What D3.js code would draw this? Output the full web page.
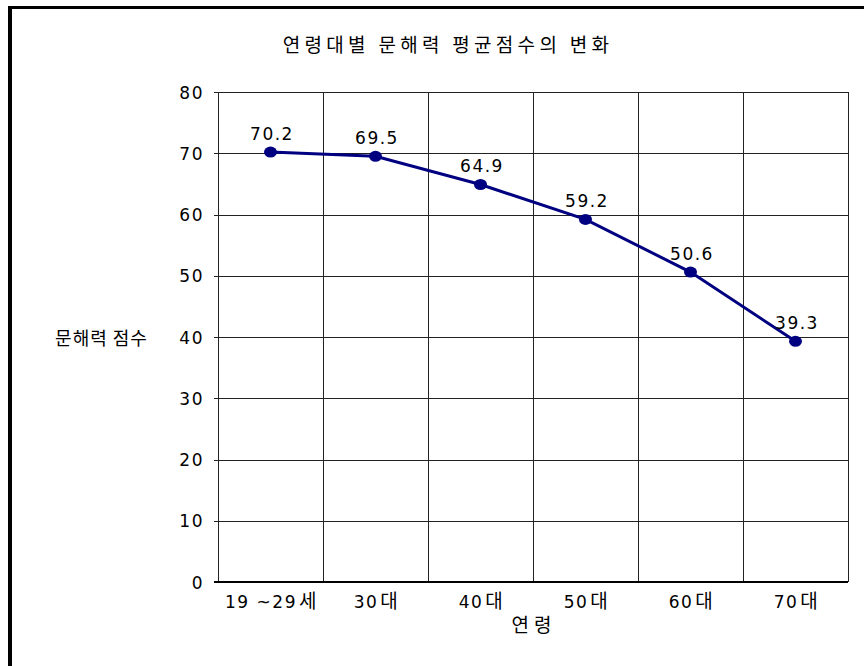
<!DOCTYPE html>
<html>
<head>
<meta charset="utf-8">
<script src="https://cdn.jsdelivr.net/npm/d3@7"></script>
<style>
  html, body { margin: 0; padding: 0; background: #fff; }
  svg text { font-family: "DejaVu Sans", "Noto Sans CJK KR", sans-serif; fill: #000; }
  svg text.kr, svg tspan.kr { font-family: "Noto Sans CJK KR", "DejaVu Sans", sans-serif; }
</style>
</head>
<body>
<svg id="chart" width="864" height="666"></svg>
<script>
// Mean literacy score by age group
const categories = ["19 ~29세", "30대", "40대", "50대", "60대", "70대"];
const scores = [70.2, 69.5, 64.9, 59.2, 50.6, 39.3];
const yTicks = [0, 10, 20, 30, 40, 50, 60, 70, 80];

const svg = d3.select("#chart");
const margin = { left: 218, right: 16, top: 92, bottom: 84 };
const W = 864, H = 666;
const plotW = W - margin.left - margin.right;
const plotH = H - margin.top - margin.bottom;

// outer frame (left and top edges)
svg.append("line").attr("x1", 10).attr("x2", 10).attr("y1", 6).attr("y2", H)
  .attr("stroke", "#000").attr("stroke-width", 4);
svg.append("line").attr("x1", 8).attr("x2", W).attr("y1", 7.5).attr("y2", 7.5)
  .attr("stroke", "#000").attr("stroke-width", 3);

const g = svg.append("g").attr("transform", `translate(${margin.left},${margin.top})`);

const x = d3.scaleBand().domain(categories).range([0, plotW]).padding(0);
const y = d3.scaleLinear().domain([0, 80]).range([plotH, 0]);

// horizontal grid with small outer ticks
const yAxis = d3.axisLeft(y).tickValues(yTicks).tickSize(-plotW).tickSizeOuter(0).tickPadding(14);
const yg = g.append("g").call(yAxis);
yg.select(".domain").remove();
yg.selectAll(".tick line").attr("stroke", "#222").attr("shape-rendering", "crispEdges")
  .attr("x1", -4);
yg.selectAll(".tick text").style("font-size", "17px").attr("dy", "0.36em")
  .style("font-family", "'DejaVu Sans', sans-serif").style("letter-spacing", "1.5px");

// vertical grid at category boundaries
const bounds = categories.map(c => x(c)).concat([plotW]);
g.selectAll(".vgrid").data(bounds).enter().append("line")
  .attr("class", "vgrid")
  .attr("x1", d => d).attr("x2", d => d)
  .attr("y1", 0).attr("y2", plotH)
  .attr("stroke", "#222").attr("shape-rendering", "crispEdges");

// x axis baseline and labels (digits and hangul set in separate tspans)
const xAxis = d3.axisBottom(x).tickSize(0).tickPadding(12);
const xg = g.append("g").attr("transform", `translate(0,${plotH})`).call(xAxis);
xg.select(".domain").remove();
g.append("line").attr("x1", -4).attr("x2", plotW).attr("y1", plotH).attr("y2", plotH)
  .attr("stroke", "#000").attr("stroke-width", 1.5).attr("shape-rendering", "crispEdges");
xg.selectAll(".tick text")
  .style("font-size", "17px").style("letter-spacing", "1.5px")
  .style("font-family", "'DejaVu Sans', sans-serif")
  .attr("dx", "1px").attr("dy", "0.84em")
  .each(function(d) {
    const t = d3.select(this).text(null);
    d.split(/([가-힣]+)/).filter(s => s.length).forEach(part => {
      const isKr = /[가-힣]/.test(part);
      t.append("tspan").attr("class", isKr ? "kr" : null)
        .attr("dx", isKr ? 2 : null)
        .style("font-size", isKr ? "19px" : null)
        .text(part);
    });
  });

// line and markers
const cx = c => x(c) + x.bandwidth() / 2;
const line = d3.line().x((d, i) => cx(categories[i])).y(d => y(d));
g.append("path").datum(scores).attr("d", line)
  .attr("fill", "none").attr("stroke", "#000080").attr("stroke-width", 3);
g.selectAll(".pt").data(scores).enter().append("ellipse")
  .attr("class", "pt")
  .attr("cx", (d, i) => cx(categories[i])).attr("cy", d => y(d))
  .attr("rx", 6.5).attr("ry", 5.5).attr("fill", "#000080");

// value labels
g.selectAll(".val").data(scores).enter().append("text")
  .attr("class", "val")
  .attr("x", (d, i) => cx(categories[i]) + 1.5).attr("y", d => y(d) - 12)
  .attr("text-anchor", "middle")
  .style("font-size", "17px").style("letter-spacing", "1.5px")
  .style("font-family", "'DejaVu Sans', sans-serif")
  .text(d => d.toFixed(1));

// titles
svg.append("text").attr("class", "kr").attr("x", 448).attr("y", 52).attr("text-anchor", "middle")
  .style("font-size", "19px").style("letter-spacing", "4.3px").text("연령대별 문해력 평균점수의 변화");
svg.append("text").attr("class", "kr").attr("x", 101.5).attr("y", 345).attr("text-anchor", "middle")
  .style("font-size", "18px").style("letter-spacing", "1px").text("문해력 점수");
svg.append("text").attr("class", "kr").attr("x", 534).attr("y", 632).attr("text-anchor", "middle")
  .style("font-size", "19px").style("letter-spacing", "5px").text("연령");
</script>
</body>
</html>
